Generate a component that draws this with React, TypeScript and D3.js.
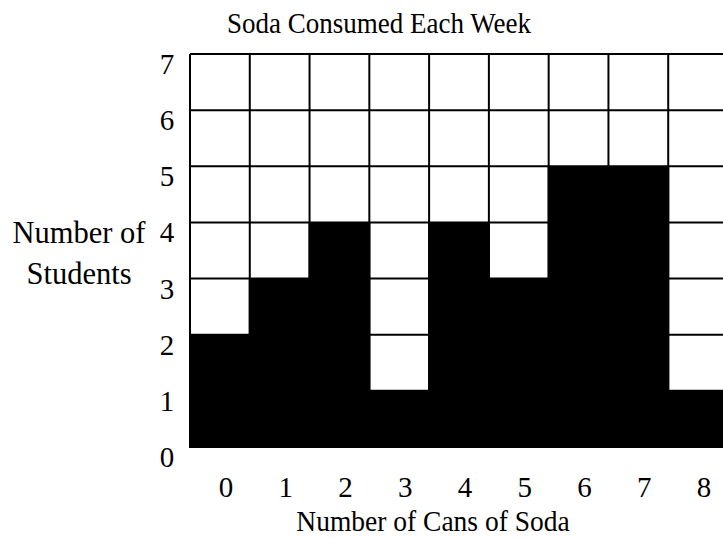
import { useRef, useEffect } from "react";
import * as d3 from "d3";

const cans = ["0", "1", "2", "3", "4", "5", "6", "7", "8"];
const students = [2, 3, 4, 1, 4, 3, 5, 5, 1];
const yTicks = [0, 1, 2, 3, 4, 5, 6, 7];

const App = () => {
  const ref = useRef<SVGSVGElement>(null);

  useEffect(() => {
    const width = 723;
    const height = 538;
    const svg = d3.select(ref.current);
    svg.selectAll("*").remove();
    svg.attr("width", width).attr("height", height);

    const font = "Liberation Serif, Times New Roman, DejaVu Serif, serif";

    // scales
    const x = d3.scaleBand().domain(cans).range([190, 728]).padding(0);
    const y = d3.scaleLinear().domain([0, 7]).range([447, 54]);

    const grid = svg.append("g");
    // horizontal grid lines
    grid
      .selectAll("line.h")
      .data(yTicks)
      .enter()
      .append("line")
      .attr("x1", 190)
      .attr("x2", 728)
      .attr("y1", (d) => y(d))
      .attr("y2", (d) => y(d))
      .attr("stroke", "#000")
      .attr("stroke-width", 2);
    // vertical grid lines
    grid
      .selectAll("line.v")
      .data(cans)
      .enter()
      .append("line")
      .attr("x1", (d) => x(d)!)
      .attr("x2", (d) => x(d)!)
      .attr("y1", y(7))
      .attr("y2", y(0))
      .attr("stroke", "#000")
      .attr("stroke-width", 2);

    // bars
    svg
      .append("g")
      .selectAll("rect")
      .data(students)
      .enter()
      .append("rect")
      .attr("x", (_, i) => x(cans[i])! - 1)
      .attr("y", (d) => y(d))
      .attr("width", x.bandwidth() + 2)
      .attr("height", (d) => y(0) - y(d) + 1)
      .attr("fill", "#000");

    const txt = (g: any) =>
      g.style("font-family", font).attr("fill", "#000").attr("text-anchor", "middle");

    // y tick labels
    svg
      .append("g")
      .selectAll("text")
      .data(yTicks)
      .enter()
      .append("text")
      .call(txt)
      .attr("x", 167)
      .attr("y", (d) => y(d) + 20)
      .style("font-size", "29px")
      .text((d) => d);

    // x tick labels
    svg
      .append("g")
      .selectAll("text")
      .data(cans)
      .enter()
      .append("text")
      .call(txt)
      .attr("x", (d) => x(d)! + x.bandwidth() / 2 + 6)
      .attr("y", 497)
      .style("font-size", "29px")
      .text((d) => d);

    // titles (scan is a bit stretched vertically)
    svg
      .append("text")
      .call(txt)
      .attr("transform", "translate(379,33) scale(1,1.1)")
      .style("font-size", "27px")
      .text("Soda Consumed Each Week");

    svg
      .append("text")
      .call(txt)
      .attr("transform", "translate(433,531) scale(1,1.08)")
      .style("font-size", "27.5px")
      .text("Number of Cans of Soda");

    svg
      .append("text")
      .call(txt)
      .attr("x", 79)
      .attr("y", 243)
      .style("font-size", "30.5px")
      .text("Number of");

    svg
      .append("text")
      .call(txt)
      .attr("x", 79)
      .attr("y", 284)
      .style("font-size", "30.5px")
      .text("Students");
  }, []);

  return (
    <svg
      ref={ref}
      style={{ position: "absolute", left: 0, top: 0, background: "#fff" }}
    />
  );
};

export default App;
